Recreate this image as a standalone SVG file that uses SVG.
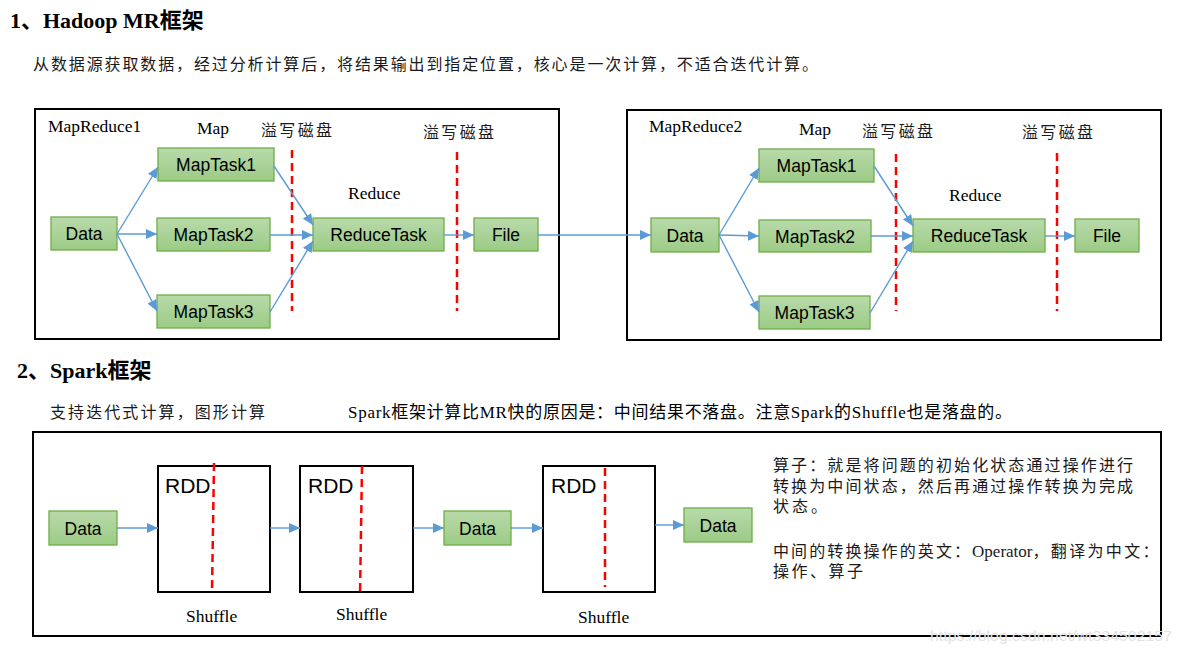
<svg xmlns="http://www.w3.org/2000/svg" width="1181" height="655" viewBox="0 0 1181 655">
<style>
.serif{font-family:'Liberation Serif','Noto Sans CJK SC',serif;fill:#000}
.cjk{font-family:'Liberation Serif','Noto Sans CJK SC',serif;fill:#1a1a1a;font-size:16px}
.h{font-family:'Liberation Serif','Noto Sans CJK SC',serif;font-weight:bold;font-size:22px;fill:#000}
.lbl{font-family:'Liberation Serif','Noto Sans CJK SC',serif;font-size:17.5px;fill:#000}
.frame{fill:none;stroke:#000;stroke-width:2}
.node rect{fill:url(#g);stroke:#70AD47;stroke-width:1.3}
.node text{font-family:'Liberation Sans',Arial,sans-serif;font-size:17.5px;fill:#000;text-anchor:middle}
.rdd rect{fill:#fff;stroke:#000;stroke-width:2}
.rdd text{font-family:'Liberation Sans',Arial,sans-serif;font-size:21px;fill:#000}
.cut{stroke:#FF0000;stroke-width:2.5;stroke-dasharray:8 5;fill:none}
.conn line{stroke:#5B9BD5;stroke-width:1.4;marker-end:url(#a)}
</style>
<defs>
<linearGradient id="g" x1="0" y1="0" x2="0" y2="1">
<stop offset="0" stop-color="#B9DAAB"/>
<stop offset="1" stop-color="#9BCB85"/>
</linearGradient>
<marker id="a" markerUnits="userSpaceOnUse" markerWidth="12" markerHeight="10" refX="11" refY="5" orient="auto">
<path d="M0,0 L11,5 L0,10 z" fill="#5B9BD5"/>
</marker>
</defs>
<rect width="1181" height="655" fill="#fff"/>

<text class="h" x="10" y="28">1、Hadoop MR框架</text>
<text class="cjk" x="33" y="70" textLength="785" lengthAdjust="spacing">从数据源获取数据，经过分析计算后，将结果输出到指定位置，核心是一次计算，不适合迭代计算。</text>

<g id="mapreduce1">
<rect class="frame" x="35" y="109" width="524" height="230"/>
<text class="lbl" x="48" y="132">MapReduce1</text>
<text class="lbl" x="197" y="134">Map</text>
<text class="cjk" x="261" y="136" textLength="71" lengthAdjust="spacing">溢写磁盘</text>
<text class="cjk" x="423" y="138" textLength="71" lengthAdjust="spacing">溢写磁盘</text>
<text class="lbl" x="348" y="199">Reduce</text>
<line class="cut" x1="292" y1="150" x2="292" y2="311"/>
<line class="cut" x1="457" y1="152" x2="457" y2="311"/>
</g>
<g id="mr1-data" class="node"><rect x="51" y="217" width="66" height="33"/><text x="84" y="240">Data</text></g>
<g id="mr1-maptask1" class="node"><rect x="158" y="148" width="116" height="33"/><text x="216" y="171">MapTask1</text></g>
<g id="mr1-maptask2" class="node"><rect x="157" y="218" width="113" height="33"/><text x="213.5" y="241">MapTask2</text></g>
<g id="mr1-maptask3" class="node"><rect x="157" y="295" width="113" height="33"/><text x="213.5" y="318">MapTask3</text></g>
<g id="mr1-reducetask" class="node"><rect x="313" y="218" width="131" height="33"/><text x="378.5" y="241">ReduceTask</text></g>
<g id="mr1-file" class="node"><rect x="474" y="218" width="64" height="33"/><text x="506" y="241">File</text></g>

<g id="mapreduce2">
<rect class="frame" x="627" y="110" width="534" height="230"/>
<text class="lbl" x="649" y="132">MapReduce2</text>
<text class="lbl" x="799" y="135">Map</text>
<text class="cjk" x="862" y="137" textLength="71" lengthAdjust="spacing">溢写磁盘</text>
<text class="cjk" x="1022" y="138" textLength="71" lengthAdjust="spacing">溢写磁盘</text>
<text class="lbl" x="949" y="201">Reduce</text>
<line class="cut" x1="896" y1="154" x2="896" y2="311"/>
<line class="cut" x1="1057" y1="153" x2="1057" y2="311"/>
</g>
<g id="mr2-data" class="node"><rect x="651" y="218" width="68" height="34"/><text x="685" y="242">Data</text></g>
<g id="mr2-maptask1" class="node"><rect x="759" y="149" width="115" height="33"/><text x="816.5" y="172">MapTask1</text></g>
<g id="mr2-maptask2" class="node"><rect x="759" y="220" width="112" height="32"/><text x="815" y="243">MapTask2</text></g>
<g id="mr2-maptask3" class="node"><rect x="759" y="296" width="111" height="33"/><text x="814.5" y="319">MapTask3</text></g>
<g id="mr2-reducetask" class="node"><rect x="913" y="219" width="132" height="33"/><text x="979" y="242">ReduceTask</text></g>
<g id="mr2-file" class="node"><rect x="1075" y="219" width="64" height="33"/><text x="1107" y="242">File</text></g>

<text class="h" x="17" y="378">2、Spark框架</text>
<text class="cjk" x="50" y="418" textLength="215" lengthAdjust="spacing">支持迭代式计算，图形计算</text>
<text class="serif" x="348" y="418" font-size="17" textLength="664" lengthAdjust="spacing">Spark框架计算比MR快的原因是：中间结果不落盘。注意Spark的Shuffle也是落盘的。</text>

<g id="spark">
<rect class="frame" x="33" y="432" width="1128" height="204"/>
<text class="lbl" x="186" y="622">Shuffle</text>
<text class="lbl" x="336" y="620">Shuffle</text>
<text class="lbl" x="578" y="623">Shuffle</text>
<text class="cjk" x="773" y="471" textLength="360" lengthAdjust="spacing">算子：就是将问题的初始化状态通过操作进行</text>
<text class="cjk" x="773" y="492" textLength="360" lengthAdjust="spacing">转换为中间状态，然后再通过操作转换为完成</text>
<text class="cjk" x="773" y="512" textLength="54" lengthAdjust="spacing">状态。</text>
<text class="cjk" x="773" y="557"><tspan textLength="197" lengthAdjust="spacing">中间的转换操作的英文：</tspan><tspan font-family="'Liberation Serif',serif" font-size="17">Operator</tspan><tspan textLength="126" lengthAdjust="spacing">，翻译为中文：</tspan></text>
<text class="cjk" x="773" y="577" textLength="90" lengthAdjust="spacing">操作、算子</text>
</g>
<g id="spark-data1" class="node"><rect x="49" y="511" width="68" height="34"/><text x="83" y="535">Data</text></g>
<g id="rdd1" class="rdd"><rect x="158" y="466" width="112" height="126"/><text x="165" y="493">RDD</text></g>
<g id="rdd2" class="rdd"><rect x="300" y="466" width="113" height="126"/><text x="308" y="493">RDD</text></g>
<g id="spark-data2" class="node"><rect x="444" y="511" width="67" height="34"/><text x="477.5" y="535">Data</text></g>
<g id="rdd3" class="rdd"><rect x="543" y="466" width="112" height="126"/><text x="551" y="493">RDD</text></g>
<g id="spark-data3" class="node"><rect x="684" y="508" width="68" height="34"/><text x="718" y="532">Data</text></g>
<g id="shuffle-cuts">
<line class="cut" x1="214" y1="463" x2="212" y2="591"/>
<line class="cut" x1="362" y1="466" x2="360" y2="595"/>
<line class="cut" x1="605" y1="468" x2="605" y2="587"/>
</g>

<g id="connectors" class="conn">
<line x1="117" y1="234" x2="158" y2="167"/>
<line x1="117" y1="234" x2="157" y2="234"/>
<line x1="117" y1="234" x2="157" y2="311"/>
<line x1="274" y1="166" x2="313" y2="225"/>
<line x1="270" y1="235" x2="313" y2="235"/>
<line x1="270" y1="312" x2="313" y2="241"/>
<line x1="444" y1="235" x2="474" y2="235"/>
<line x1="538" y1="235" x2="651" y2="235"/>
<line x1="719" y1="235" x2="759" y2="168"/>
<line x1="719" y1="235" x2="759" y2="236"/>
<line x1="719" y1="235" x2="759" y2="312"/>
<line x1="874" y1="166" x2="913" y2="226"/>
<line x1="871" y1="236" x2="913" y2="236"/>
<line x1="870" y1="313" x2="913" y2="241"/>
<line x1="1045" y1="236" x2="1075" y2="236"/>
<line x1="117" y1="528" x2="158" y2="528"/>
<line x1="270" y1="528" x2="300" y2="528"/>
<line x1="413" y1="528" x2="444" y2="528"/>
<line x1="511" y1="528" x2="543" y2="528"/>
<line x1="655" y1="525" x2="684" y2="525"/>
</g>
<text x="930" y="641" font-family="'Liberation Sans',Arial,sans-serif" font-size="15" fill="#e2e2e2" textLength="242" lengthAdjust="spacingAndGlyphs">https://blog.csdn.net/wt334502157</text>
</svg>
